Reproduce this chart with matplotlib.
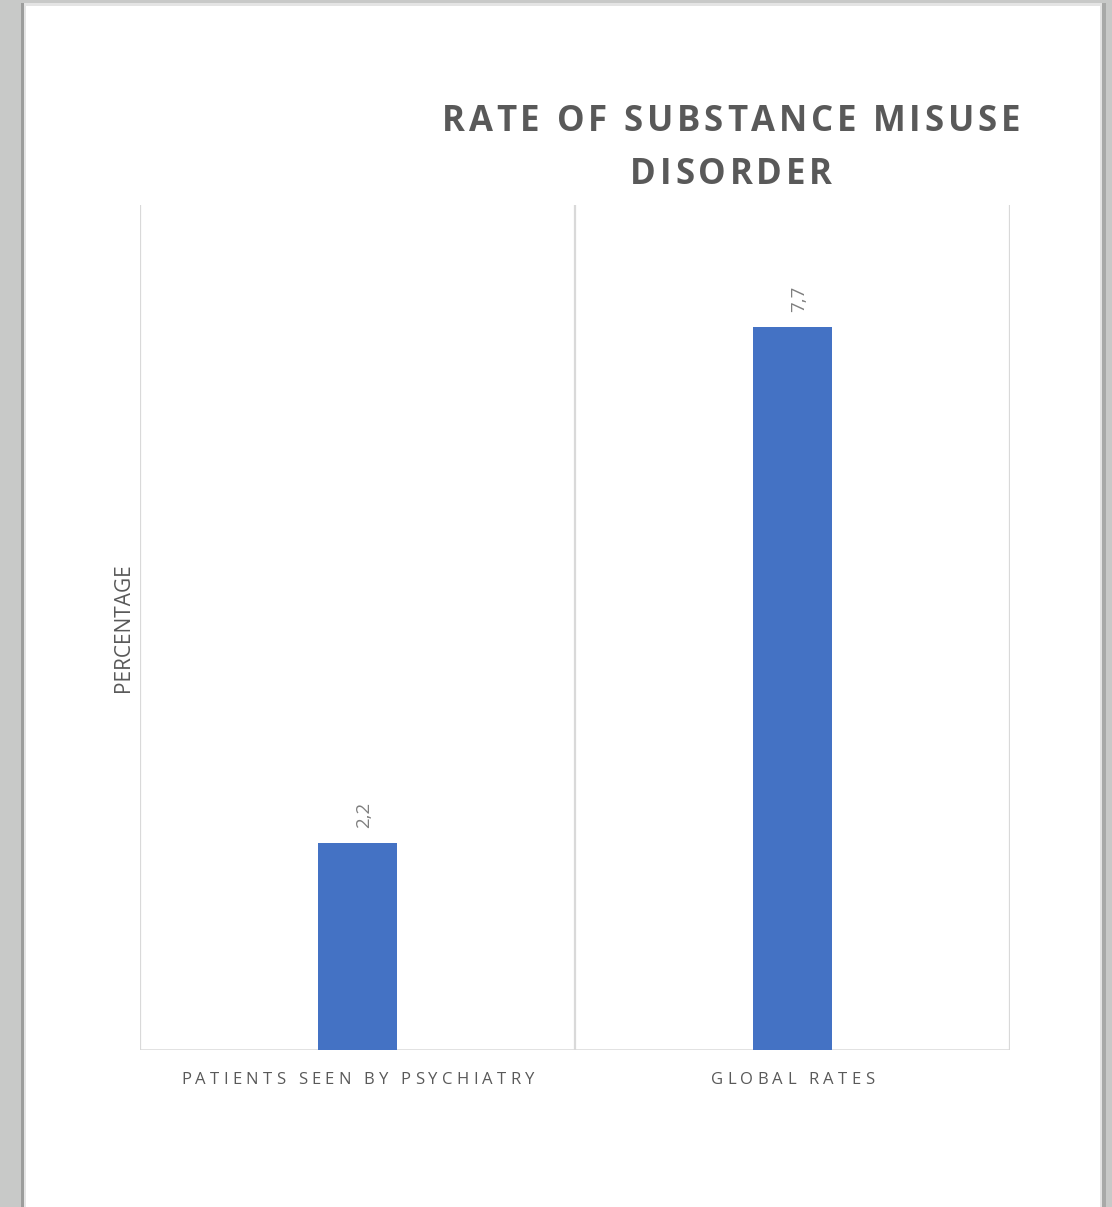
import matplotlib
matplotlib.use("Agg")
import matplotlib.pyplot as plt
from matplotlib.patches import Rectangle
from matplotlib.font_manager import FontProperties, findfont
from matplotlib.ft2font import FT2Font

categories = ["PATIENTS SEEN BY PSYCHIATRY", "GLOBAL RATES"]
values = [2.2, 7.7]
value_labels = ["2,2", "7,7"]
title_lines = ["RATE OF SUBSTANCE MISUSE", "DISORDER"]
ylabel = "PERCENTAGE"

W, H = 1112, 1207
DPI = 100
fig = plt.figure(figsize=(W / DPI, H / DPI), dpi=DPI)
fig.patch.set_facecolor("#c8c9c8")


def px(x, y_top):
    """Pixel position (from the top-left corner) to figure fraction."""
    return x / W, 1 - y_top / H


def tracked_text(cx, baseline, s, size, tracking_em, weight="normal", color="#595959",
                 family="Open Sans"):
    """Draw a string centred on cx with extra letter spacing."""
    prop = FontProperties(family=family, weight=weight)
    font = FT2Font(findfont(prop))
    font.set_size(size, DPI)
    em = size * DPI / 72
    advs = [font.load_char(ord(c)).linearHoriAdvance / 65536 for c in s]
    track = tracking_em * em
    total = sum(advs) + track * (len(s) - 1)
    pen = cx - total / 2
    for c, a in zip(s, advs):
        if c != " ":
            fig.text(*px(pen + a / 2, baseline), c, ha="center", va="baseline",
                     fontsize=size, fontweight=weight, color=color, family=family)
        pen += a + track


# white page with a soft shadow
fig.patches.append(Rectangle((21 / W, 0), 5 / W, 1 - 3 / H, transform=fig.transFigure,
                             facecolor="#9c9d9c", edgecolor="none", zorder=-10))
fig.patches.append(Rectangle((1100 / W, 0), 6 / W, 1 - 3 / H, transform=fig.transFigure,
                             facecolor="#a8a9a8", edgecolor="none", zorder=-10))
fig.patches.append(Rectangle((24 / W, 0), (1102 - 24) / W, 1 - 3 / H, transform=fig.transFigure,
                             facecolor="#e4e4e4", edgecolor="none", zorder=-9))
fig.patches.append(Rectangle((26 / W, 0), (1100 - 26) / W, 1 - 6 / H, transform=fig.transFigure,
                             facecolor="white", edgecolor="none", zorder=-8))

ax = fig.add_axes([140 / W, 1 - 1050 / H, 870 / W, 845 / H])
ax.set_facecolor("none")

x = list(range(len(categories)))
ax.bar(x, values, width=0.182, color="#4472c4", zorder=2)
ax.set_xlim(-0.5, len(categories) - 0.5)
ax.set_ylim(0, 9)

# category separators and baseline
for xv in [i - 0.5 for i in range(len(categories) + 1)]:
    ax.axvline(xv, color="#d9d9d9", lw=1.6, zorder=1)
ax.axhline(0, color="#d9d9d9", lw=1.8, zorder=1)

for s in ax.spines.values():
    s.set_visible(False)
ax.set_yticks([])
ax.set_xticks(x)
ax.set_xticklabels([])
ax.tick_params(axis="x", length=0)

for xi, v, lab in zip(x, values, value_labels):
    ax.annotate(lab, (xi, v), xytext=(4.5, 11), textcoords="offset points",
                rotation=90, ha="center", va="bottom", fontsize=13.5,
                color="#7f7f7f", family="Open Sans")

ax.set_ylabel(ylabel, fontsize=15, color="#595959", family="Open Sans", labelpad=4)

# category labels with letter spacing, centred under each category
fig.canvas.draw()
for xi, cat in zip(x, categories):
    cx_disp = ax.transData.transform((xi, 0))[0]
    tracked_text(cx_disp * W / fig.bbox.width, 1084, cat, 12, 0.255, color="#595959")

# title
tracked_text(731, 131, title_lines[0], 25, 0.11, weight="bold", color="#595959")
tracked_text(731, 184, title_lines[1], 25, 0.11, weight="bold", color="#595959")

fig.savefig("out.png", dpi=DPI)
